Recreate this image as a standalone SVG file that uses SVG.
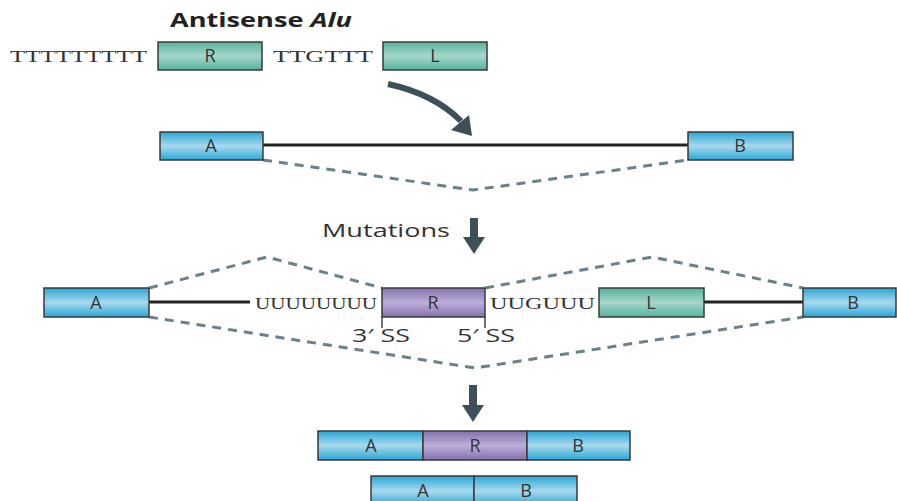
<svg xmlns="http://www.w3.org/2000/svg" width="897" height="501" viewBox="0 0 897 501">
<defs>
<linearGradient id="gBlue" x1="0" y1="0" x2="0" y2="1">
<stop offset="0" stop-color="#27a6d6"/><stop offset="0.5" stop-color="#a9d9ee"/><stop offset="1" stop-color="#27a6d6"/>
</linearGradient>
<linearGradient id="gTeal" x1="0" y1="0" x2="0" y2="1">
<stop offset="0" stop-color="#55b39e"/><stop offset="0.5" stop-color="#a6d6cb"/><stop offset="1" stop-color="#55b39e"/>
</linearGradient>
<linearGradient id="gPurple" x1="0" y1="0" x2="0" y2="1">
<stop offset="0" stop-color="#8571b0"/><stop offset="0.5" stop-color="#bcaed8"/><stop offset="1" stop-color="#8571b0"/>
</linearGradient>
<style>
.box{stroke:#3a3a3a;stroke-width:1.5}
.blue{fill:url(#gBlue)}
.teal{fill:url(#gTeal)}
.purple{fill:url(#gPurple)}
.lbl{font-family:"Open Sans","Liberation Sans",sans-serif;font-size:18px;fill:#333;text-anchor:middle}
.seq{font-family:"Liberation Serif",serif;font-size:17px;fill:#333}
.title{font-family:"Open Sans","Liberation Sans",sans-serif;font-size:19px;font-weight:bold;fill:#222}
.note{font-family:"Open Sans","Liberation Sans",sans-serif;font-size:19px;fill:#333}
.intron{stroke:#222;stroke-width:3;fill:none}
.dash{stroke:#6b8088;stroke-width:3;stroke-dasharray:9 7;fill:none}
.tick{stroke:#444;stroke-width:1.5}
.arrow{fill:#3d4f59}
</style>
</defs>

<text class="title" x="170" y="27" textLength="182" lengthAdjust="spacingAndGlyphs">Antisense <tspan font-style="italic">Alu</tspan></text>

<g id="alu">
<text class="seq" x="10" y="62" textLength="137" lengthAdjust="spacingAndGlyphs">TTTTTTTTT</text>
<g id="aluR"><rect class="box teal" x="158" y="42" width="104" height="28"/><text class="lbl" x="210" y="62">R</text></g>
<text class="seq" x="273" y="62" textLength="100" lengthAdjust="spacingAndGlyphs">TTGTTT</text>
<g id="aluL"><rect class="box teal" x="383" y="42" width="104" height="28"/><text class="lbl" x="435" y="62">L</text></g>
</g>

<g id="connectors">
<path d="M388,84 Q434,94 461,121" stroke="#3d4f59" stroke-width="6" fill="none"/>
<polygon class="arrow" points="472,136 451,130 469,115"/>
<line class="intron" x1="263" y1="145" x2="688" y2="145"/>
<polyline class="dash" points="263,160 473,190 688,160"/>
<rect class="arrow" x="470" y="218" width="8" height="22"/>
<polygon class="arrow" points="463,237 485,237 474,254"/>
<line class="intron" x1="149" y1="302" x2="250" y2="302"/>
<line class="intron" x1="704" y1="302" x2="803" y2="302"/>
<polyline class="dash" points="149,288 267,257 382,288"/>
<polyline class="dash" points="485,288 652,257 803,288"/>
<polyline class="dash" points="149,317 475,368 803,317"/>
<line class="tick" x1="382" y1="317" x2="382" y2="328"/>
<line class="tick" x1="485" y1="317" x2="485" y2="328"/>
<rect class="arrow" x="469" y="385" width="8" height="22"/>
<polygon class="arrow" points="462,405 484,405 473,422"/>
</g>

<g id="row2A"><rect class="box blue" x="160" y="132" width="103" height="28"/><text class="lbl" x="211" y="152">A</text></g>
<g id="row2B"><rect class="box blue" x="688" y="132" width="105" height="28"/><text class="lbl" x="740" y="152">B</text></g>

<text class="note" x="322" y="237" textLength="128" lengthAdjust="spacingAndGlyphs">Mutations</text>

<g id="row3A"><rect class="box blue" x="44" y="288" width="105" height="29"/><text class="lbl" x="96" y="309">A</text></g>
<text class="seq" x="255" y="309" textLength="122" lengthAdjust="spacingAndGlyphs">UUUUUUUU</text>
<g id="row3R"><rect class="box purple" x="382" y="288" width="103" height="29"/><text class="lbl" x="433" y="309">R</text></g>
<text class="seq" x="490" y="309" textLength="105" lengthAdjust="spacingAndGlyphs">UUGUUU</text>
<g id="row3L"><rect class="box teal" x="599" y="288" width="105" height="29"/><text class="lbl" x="651" y="309">L</text></g>
<g id="row3B"><rect class="box blue" x="803" y="288" width="93" height="29"/><text class="lbl" x="853" y="309">B</text></g>
<text class="note" x="352" y="342" textLength="58" lengthAdjust="spacingAndGlyphs">3′ SS</text>
<text class="note" x="457" y="342" textLength="58" lengthAdjust="spacingAndGlyphs">5′ SS</text>

<g id="productARB">
<rect class="box blue" x="318" y="431" width="105" height="29"/><text class="lbl" x="371" y="452">A</text>
<rect class="box purple" x="423" y="431" width="104" height="29"/><text class="lbl" x="475" y="452">R</text>
<rect class="box blue" x="527" y="431" width="103" height="29"/><text class="lbl" x="578" y="452">B</text>
</g>
<g id="productAB">
<rect class="box blue" x="371" y="476" width="103" height="30"/><text class="lbl" x="423" y="497">A</text>
<rect class="box blue" x="474" y="476" width="103" height="30"/><text class="lbl" x="526" y="497">B</text>
</g>
</svg>
